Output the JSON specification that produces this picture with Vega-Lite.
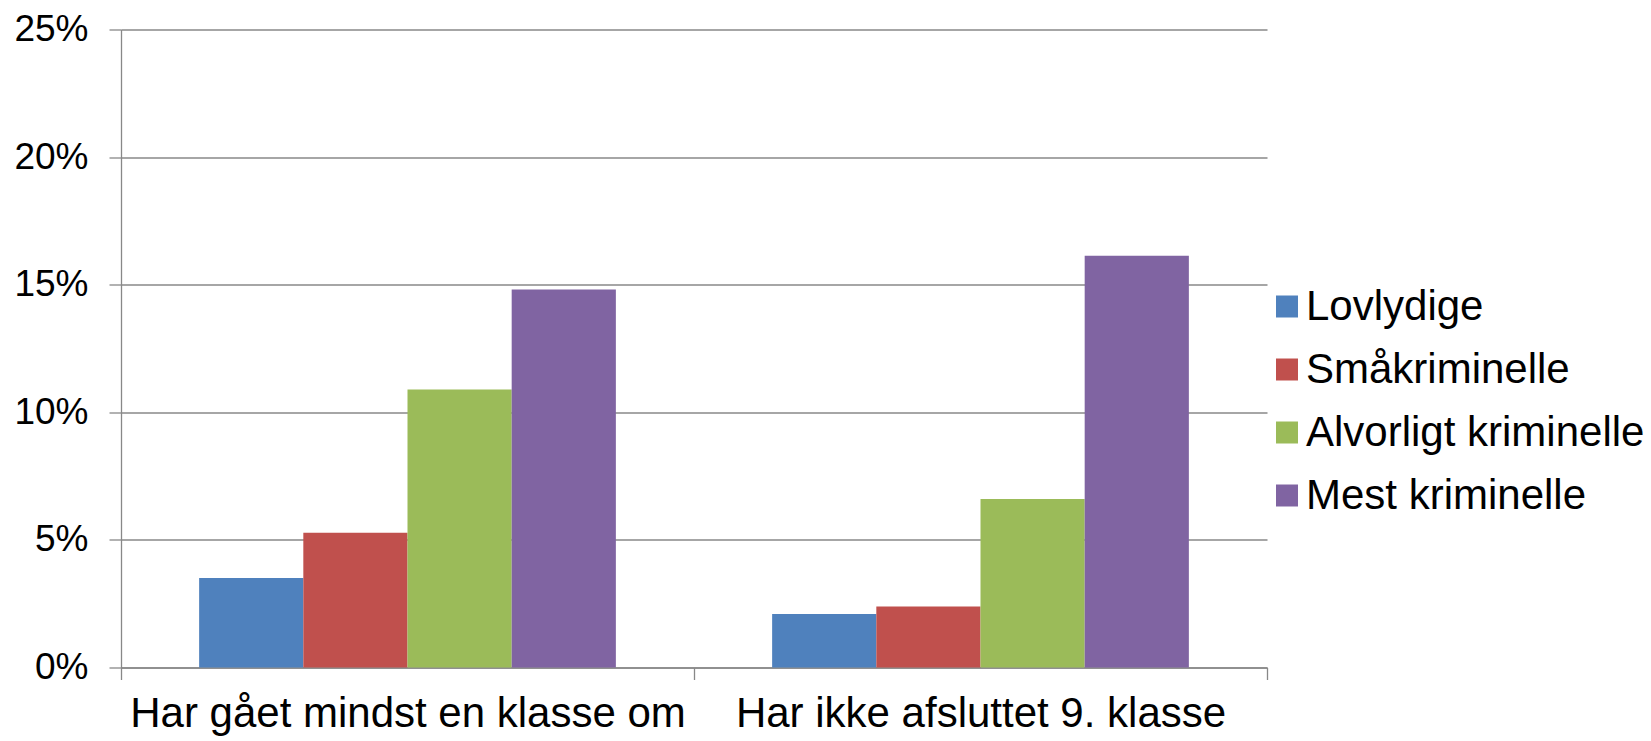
{
  "$schema": "https://vega.github.io/schema/vega-lite/v6.json",
  "autosize": {"type": "none"},
  "padding": {"left": 121, "top": 29.5, "right": 384, "bottom": 73.5},
  "width": 1146,
  "height": 638,
  "background": "white",
  "config": {
    "font": "Liberation Sans",
    "view": {"stroke": null}
  },
  "data": {
    "values": [
      {"kategori": "Har gået mindst en klasse om", "gruppe": "Lovlydige", "andel": 0.0351},
      {"kategori": "Har gået mindst en klasse om", "gruppe": "Småkriminelle", "andel": 0.0528},
      {"kategori": "Har gået mindst en klasse om", "gruppe": "Alvorligt kriminelle", "andel": 0.1089},
      {"kategori": "Har gået mindst en klasse om", "gruppe": "Mest kriminelle", "andel": 0.1481},
      {"kategori": "Har ikke afsluttet 9. klasse", "gruppe": "Lovlydige", "andel": 0.0210},
      {"kategori": "Har ikke afsluttet 9. klasse", "gruppe": "Småkriminelle", "andel": 0.0239},
      {"kategori": "Har ikke afsluttet 9. klasse", "gruppe": "Alvorligt kriminelle", "andel": 0.0660},
      {"kategori": "Har ikke afsluttet 9. klasse", "gruppe": "Mest kriminelle", "andel": 0.1613}
    ]
  },
  "mark": {"type": "bar"},
  "encoding": {
    "x": {
      "field": "kategori",
      "type": "nominal",
      "sort": null,
      "title": null,
      "scale": {"paddingInner": 0, "paddingOuter": 0},
      "axis": {
        "labelAngle": 0,
        "labelFontSize": 42,
        "labelColor": "black",
        "labelPadding": 14,
        "labelLimit": 800,
        "tickBand": "extent",
        "tickSize": 12,
        "tickColor": "#888888",
        "tickWidth": 1.3,
        "domainColor": "#888888",
        "domainWidth": 1.3,
        "grid": false
      }
    },
    "xOffset": {
      "field": "gruppe",
      "type": "nominal",
      "sort": ["Lovlydige", "Småkriminelle", "Alvorligt kriminelle", "Mest kriminelle"],
      "scale": {"paddingInner": 0, "paddingOuter": 0.75}
    },
    "y": {
      "field": "andel",
      "type": "quantitative",
      "title": null,
      "scale": {"domain": [0, 0.25], "nice": false},
      "axis": {
        "values": [0, 0.05, 0.1, 0.15, 0.2, 0.25],
        "format": ".0%",
        "labelFontSize": 37,
        "labelColor": "black",
        "labelPadding": 21,
        "tickSize": 12,
        "tickColor": "#888888",
        "tickWidth": 1.3,
        "domainColor": "#888888",
        "domainWidth": 1.3,
        "gridColor": "#888888",
        "gridWidth": 1.3
      }
    },
    "color": {
      "field": "gruppe",
      "type": "nominal",
      "sort": ["Lovlydige", "Småkriminelle", "Alvorligt kriminelle", "Mest kriminelle"],
      "scale": {
        "domain": ["Lovlydige", "Småkriminelle", "Alvorligt kriminelle", "Mest kriminelle"],
        "range": ["#4F81BD", "#C0504D", "#9BBB59", "#8064A2"]
      },
      "legend": {
        "title": null,
        "orient": "none",
        "legendX": 1145,
        "legendY": 256,
        "symbolType": "square",
        "symbolSize": 484,
        "symbolStrokeWidth": 0,
        "labelFontSize": 42,
        "labelColor": "black",
        "labelLimit": 500,
        "labelOffset": -2,
        "rowPadding": 21,
        "padding": 0
      }
    }
  }
}
